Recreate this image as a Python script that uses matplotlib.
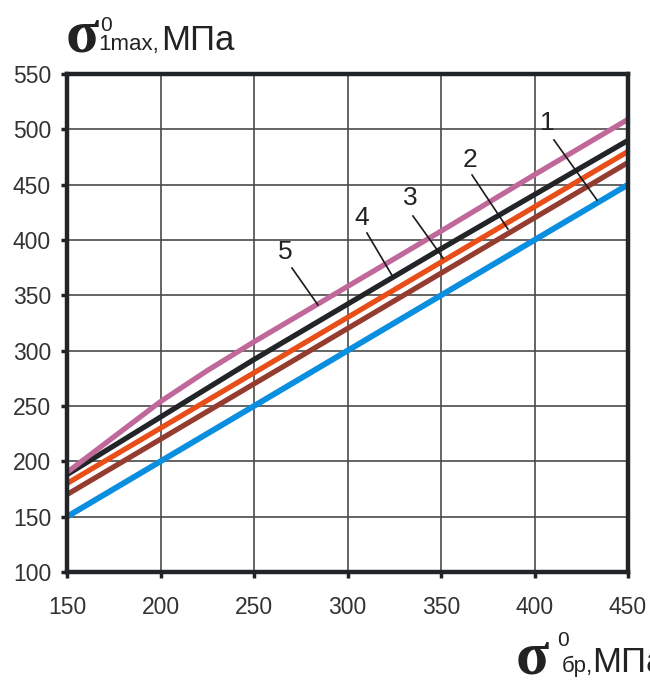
import matplotlib
matplotlib.use("Agg")
import matplotlib.pyplot as plt

# Stress data, MPa
x_vals = [150, 200, 250, 300, 350, 400, 450]
curve1 = [150, 200, 250, 300, 350, 400, 450]   # blue
curve2 = [170, 220, 270, 320, 370, 420, 470]   # brown
curve3 = [180, 230, 280, 330, 380, 430, 480]   # orange
curve4 = [188, 240, 292, 342, 392, 441, 490]   # black
x5 = [150, 175, 200, 225, 250, 275, 300, 350, 400, 450]
curve5 = [190, 222, 254, 282, 308, 333, 358, 408, 459, 509]  # pink

x_ticks = [150, 200, 250, 300, 350, 400, 450]
y_ticks = [100, 150, 200, 250, 300, 350, 400, 450, 500, 550]

# Curve labels: (text, label position, leader start, leader end)
labels = [
    ("1", (407, 506), (410.4, 490.4), (433.4, 436.1)),
    ("2", (365.5, 472), (366.6, 458.7), (385.8, 409.9)),
    ("3", (333.4, 438), (335.0, 421.7), (351.1, 383.7)),
    ("4", (307.8, 420), (310.4, 406.3), (324.3, 366.6)),
    ("5", (266.6, 389), (270.3, 374.7), (284.2, 341.3)),
]

W, H = 650, 681
fig = plt.figure(figsize=(W / 100, H / 100), dpi=100)
ax = fig.add_axes([67 / W, 1 - 572 / H, (628 - 67) / W, (572 - 74) / H])

sans = "Liberation Sans"
serif = "Liberation Serif"

ax.plot(x_vals, curve1, color="#0A8EE0", lw=4.2, solid_capstyle="butt", zorder=3)
ax.plot(x_vals, curve2, color="#943C30", lw=3.8, solid_capstyle="butt", zorder=3)
ax.plot(x_vals, curve3, color="#E84E18", lw=3.8, solid_capstyle="butt", zorder=3)
ax.plot(x_vals, curve4, color="#222527", lw=3.8, solid_capstyle="butt", zorder=3)
ax.plot(x5, curve5, color="#C0689A", lw=3.8, solid_capstyle="butt", zorder=3)

for txt, (tx, ty), (x0, y0), (x1, y1) in labels:
    ax.plot([x0, x1], [y0, y1], color="#1a1a1a", lw=1.2, zorder=4)
    ax.text(tx, ty, txt, fontsize=19, family=sans, color="#222",
            ha="center", va="center", zorder=5)

ax.set_xlim(150, 450)
ax.set_ylim(100, 550)
ax.set_xticks(x_ticks)
ax.set_yticks(y_ticks)
ax.set_xticklabels([str(v) for v in x_ticks], family=sans, fontsize=16.5, color="#333")
ax.set_yticklabels([str(v) for v in y_ticks], family=sans, fontsize=16.5, color="#333")
ax.tick_params(axis="y", direction="out", length=4.5, width=2.5, color="#222", pad=7)
ax.tick_params(axis="x", direction="out", length=4, width=2.5, color="#222", pad=13)
ax.grid(True, color="#4a4a4a", lw=1.2, zorder=1)
ax.set_axisbelow(True)
for side in ["left", "right", "top", "bottom"]:
    ax.spines[side].set_linewidth(3.2)
    ax.spines[side].set_color("#222527")
    ax.spines[side].set_zorder(6)


def ftext(px, py, s, size, family, **kw):
    fig.text(px / W, 1 - py / H, s, fontsize=size, family=family,
             color="#222", ha="left", va="baseline", **kw)


# Y axis title
ftext(66, 51, "σ", 44, serif, weight="bold")
ftext(100, 31, "0", 15, sans)
ftext(98, 50, "1max,", 16, sans)
ftext(161, 50, "МПа", 25, sans)

# X axis title
ftext(516, 673, "σ", 44, serif, weight="bold")
ftext(557, 646, "0", 15, sans)
ftext(562, 672, "бр,", 16, sans)
ftext(592, 672, "МПа", 25, sans)

fig.savefig("out.png", dpi=100, facecolor="white")
